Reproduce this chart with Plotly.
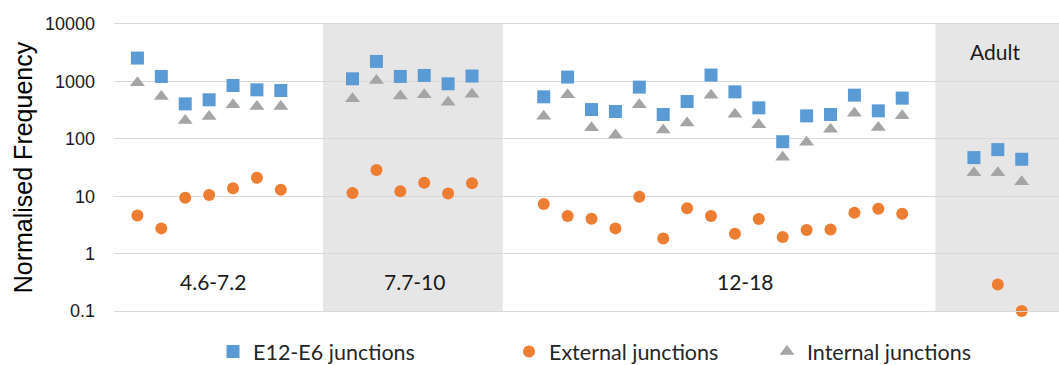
import math
import plotly.graph_objects as go

# Normalised junction frequencies per sample, grouped by age range
group_names = ["4.6-7.2", "7.7-10", "12-18", "Adult"]

e12_e6_g1 = [2550, 1220, 406, 478, 848, 713, 694]
e12_e6_g2 = [1110, 2230, 1220, 1270, 908, 1240]
e12_e6_g3 = [539, 1190, 323, 299, 795, 265, 446, 1290, 658, 346, 89, 251, 265, 576, 307, 511]
e12_e6_adult = [47, 64.8, 44]

external_g1 = [4.6, 2.75, 9.4, 10.5, 13.7, 21, 13]
external_g2 = [11.4, 28.7, 12.2, 17.2, 11.1, 16.8]
external_g3 = [7.3, 4.5, 4.05, 2.75, 9.8, 1.84, 6.15, 4.5, 2.22, 4.0, 1.94, 2.57, 2.64, 5.15, 6.05, 4.95]
external_adult = [None, 0.29, 0.1]

internal_g1 = [950, 545, 208, 244, 391, 365, 365]
internal_g2 = [497, 1040, 554, 584, 435, 600]
internal_g3 = [248, 584, 155, 117, 391, 143, 189, 576, 269, 175, 47.7, 87, 147, 279, 157, 251]
internal_adult = [25.7, 25.7, 17.9]

y_tick_values = [0.1, 1, 10, 100, 1000, 10000]
y_tick_labels = ["0.1", "1", "10", "100", "1000", "10000"]

# Sample slots: groups separated by two empty slots
GAP = 2
group_sizes = [len(e12_e6_g1), len(e12_e6_g2), len(e12_e6_g3), len(e12_e6_adult)]
x_slots = []
group_spans = []
pos = 0
for n in group_sizes:
    xs = list(range(pos, pos + n))
    x_slots.extend(xs)
    group_spans.append((xs[0], xs[-1]))
    pos += n + GAP

e12_e6 = e12_e6_g1 + e12_e6_g2 + e12_e6_g3 + e12_e6_adult
external = external_g1 + external_g2 + external_g3 + external_adult
internal = internal_g1 + internal_g2 + internal_g3 + internal_adult

BLUE = "#5B9BD5"
ORANGE = "#ED7D31"
GREY = "#A5A5A5"
SHADE = "#E7E6E6"
GRID = "#D9D9D9"
LABEL_FONT = "Lato, 'Open Sans', sans-serif"

fig = go.Figure()
fig.add_trace(go.Scatter(
    x=x_slots, y=e12_e6, mode="markers", name="E12-E6 junctions", cliponaxis=False,
    marker=dict(symbol="square", size=13, color=BLUE), legend="legend",
))
fig.add_trace(go.Scatter(
    x=x_slots, y=external, mode="markers", name="External junctions", cliponaxis=False,
    marker=dict(symbol="circle", size=12, color=ORANGE), legend="legend2",
))
fig.add_trace(go.Scatter(
    x=x_slots, y=internal, mode="markers", name="Internal junctions", cliponaxis=False,
    marker=dict(symbol="triangle-up", size=13, color=GREY), legend="legend3",
))

# Shaded bands behind the 7.7-10 and Adult groups
x_min, x_max = -0.98, 38.56
band_7_10 = (group_spans[1][0] - 1.24, group_spans[1][1] + 1.29)
band_adult = (group_spans[3][0] - 1.61, x_max)
for x0, x1 in (band_7_10, band_adult):
    fig.add_shape(type="rect", xref="x", yref="paper", x0=x0, x1=x1, y0=0, y1=1,
                  fillcolor=SHADE, line_width=0, layer="below")

# Group labels (annotation y on a log axis is given as log10)
label_font = dict(family=LABEL_FONT, size=21, color="#1a1a1a")
label_pos = [
    ((group_spans[0][0] + group_spans[0][1]) / 2 + 0.18, 0.322),
    ((group_spans[1][0] + group_spans[1][1]) / 2 + 0.1, 0.322),
    ((group_spans[2][0] + group_spans[2][1]) / 2 + 0.95, 0.322),
    ((group_spans[3][0] + group_spans[3][1]) / 2 - 0.1, 3350),
]
for name, (lx, ly) in zip(group_names, label_pos):
    fig.add_annotation(x=lx, y=math.log10(ly), text=name, showarrow=False, font=label_font,
                       xanchor="center", yanchor="middle")

# Plot area spans y = 24..311 px; legend row centred just above the bottom edge
legend_y = (311 - 351.5) / 287
legend_common = dict(orientation="h", yanchor="middle", y=legend_y, xanchor="left",
                     bgcolor="rgba(0,0,0,0)", font=dict(family=LABEL_FONT, size=21.5, color="#262626"))
fig.update_layout(
    width=1059, height=365,
    margin=dict(l=114, r=0, t=24, b=54, autoexpand=False),
    paper_bgcolor="white", plot_bgcolor="white",
    showlegend=True,
    legend=dict(x=(213 - 114) / 945, **legend_common),
    legend2=dict(x=(509 - 114) / 945, **legend_common),
    legend3=dict(x=(767 - 114) / 945, **legend_common),
    xaxis=dict(range=[x_min, x_max], showgrid=False, zeroline=False,
               showticklabels=False, ticks="",
               showline=True, linecolor=GRID, linewidth=1, mirror=True),
    yaxis=dict(type="log", range=[-1, 4], tickvals=y_tick_values, ticktext=y_tick_labels,
               showgrid=True, gridcolor=GRID, gridwidth=1, zeroline=False, ticks="",
               ticklabelstandoff=18,
               tickfont=dict(family="Liberation Sans, Arial, sans-serif", size=18, color="#1a1a1a"),
               title=dict(text="Normalised Frequency", standoff=5,
                          font=dict(family="Liberation Sans, Arial, sans-serif", size=25, color="#000"))),
)

fig.write_html("out.html")
